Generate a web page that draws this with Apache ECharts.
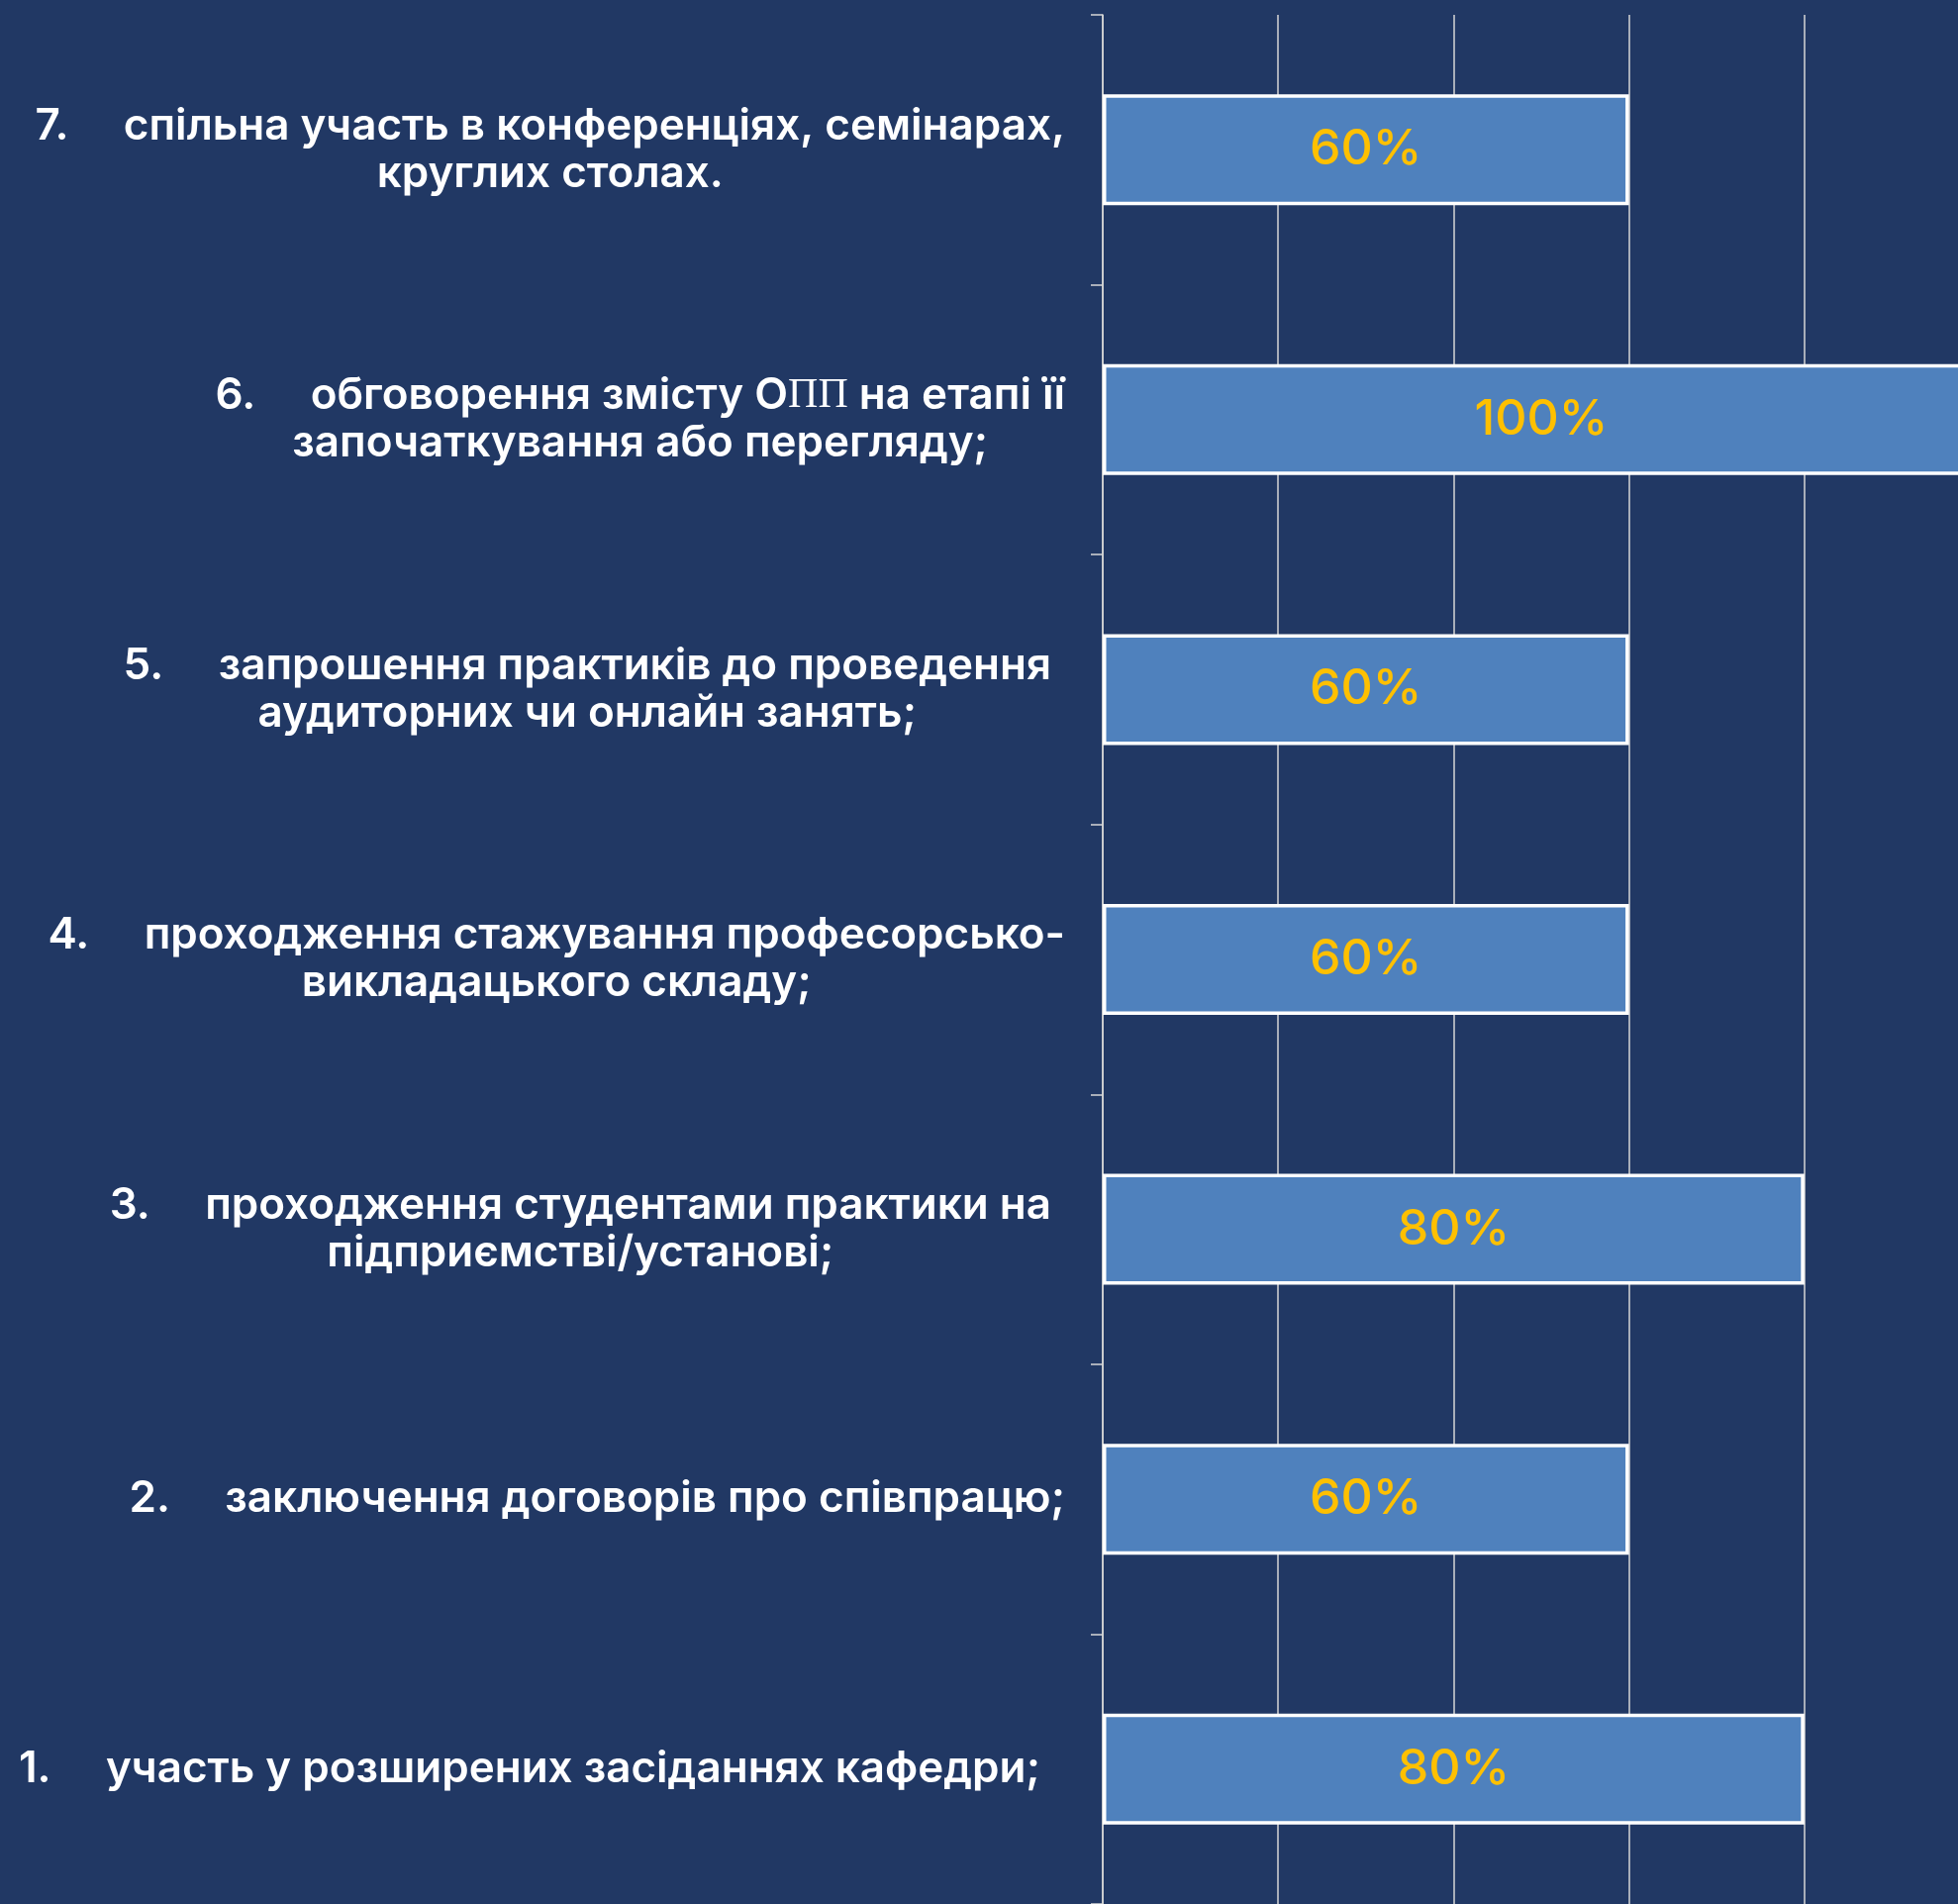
<!DOCTYPE html>
<html>
<head>
<meta charset="utf-8">
<script src="https://cdn.jsdelivr.net/npm/echarts@6/dist/echarts.min.js"></script>
<style>
  html, body { margin: 0; padding: 0; background: #213864; }
  #chart { width: 1978px; height: 1923px; }
</style>
</head>
<body>
<div id="chart"></div>
<script>
// categories, bottom to top (item 1 sits at the bottom)
var categories = [
  ["1.     участь у розширених засіданнях кафедри;"],
  ["2.     заключення договорів про співпрацю;"],
  ["3.     проходження студентами практики на", "підприємстві/установі;"],
  ["4.     проходження стажування професорсько-", "викладацького складу;"],
  ["5.     запрошення практиків до проведення", "аудиторних чи онлайн занять;"],
  ["6.     обговорення змісту ОПП на етапі її", "започаткування або перегляду;"],
  ["7.     спільна участь в конференціях, семінарах,", "круглих столах."]
];
var values = [80, 60, 80, 60, 60, 100, 60];
var xTicks = [0, 20, 40, 60, 80, 100];

// small right offsets of some label blocks, as in the picture
var labelRightPad = [25, 0, 14, 0, 14, 0, 0];

var textFont = "Inter";
var chart = echarts.init(document.getElementById("chart"));

var rich = {
  // "ПП" in the source is set in a serif face
  s: { align: "center", color: "#ffffff", fontFamily: "Liberation Serif", fontWeight: 400, fontSize: 42, lineHeight: 48 }
};
labelRightPad.forEach(function (p, i) {
  rich["l" + i] = {
    align: "center",
    color: "#ffffff",
    fontFamily: textFont,
    fontWeight: 600,
    fontSize: 44,
    lineHeight: 48,
    padding: [0, p, 0, 0]
  };
});

var option = {
  backgroundColor: "#213864",
  animation: false,
  grid: { left: 1114, top: 15, width: 886, height: 1908, outerBoundsMode: "none" },
  xAxis: {
    type: "value",
    min: xTicks[0],
    max: xTicks[xTicks.length - 1],
    interval: xTicks[1] - xTicks[0],
    axisLine: { show: false },
    axisTick: { show: false },
    axisLabel: { show: false },
    splitLine: { show: true, lineStyle: { color: "#d6d6d6", width: 1.5 } }
  },
  yAxis: {
    type: "category",
    data: categories.map(function (c, i) { return i; }),
    axisLine: { show: true, lineStyle: { color: "#d6d6d6", width: 1.5 } },
    axisTick: { show: true, length: 12, lineStyle: { color: "#d6d6d6", width: 1.5 } },
    axisLabel: {
      margin: 38,
      align: "right",
      formatter: function (v, i) {
        return categories[i].map(function (line) {
          var tag = "l" + i;
          return "{" + tag + "|" + line.split("ПП").join("}{s|ПП}{" + tag + "|") + "}";
        }).join("\n");
      },
      rich: rich
    },
    splitLine: { show: false }
  },
  series: [{
    type: "bar",
    data: values,
    barWidth: 112,
    itemStyle: { color: "#4f81bd", borderColor: "#ffffff", borderWidth: 3.5 },
    label: {
      show: true,
      position: "inside",
      formatter: "{c}%",
      color: "#ffc000",
      fontFamily: textFont,
      fontWeight: 500,
      fontSize: 50
    }
  }]
};
chart.setOption(option);
</script>
</body>
</html>
